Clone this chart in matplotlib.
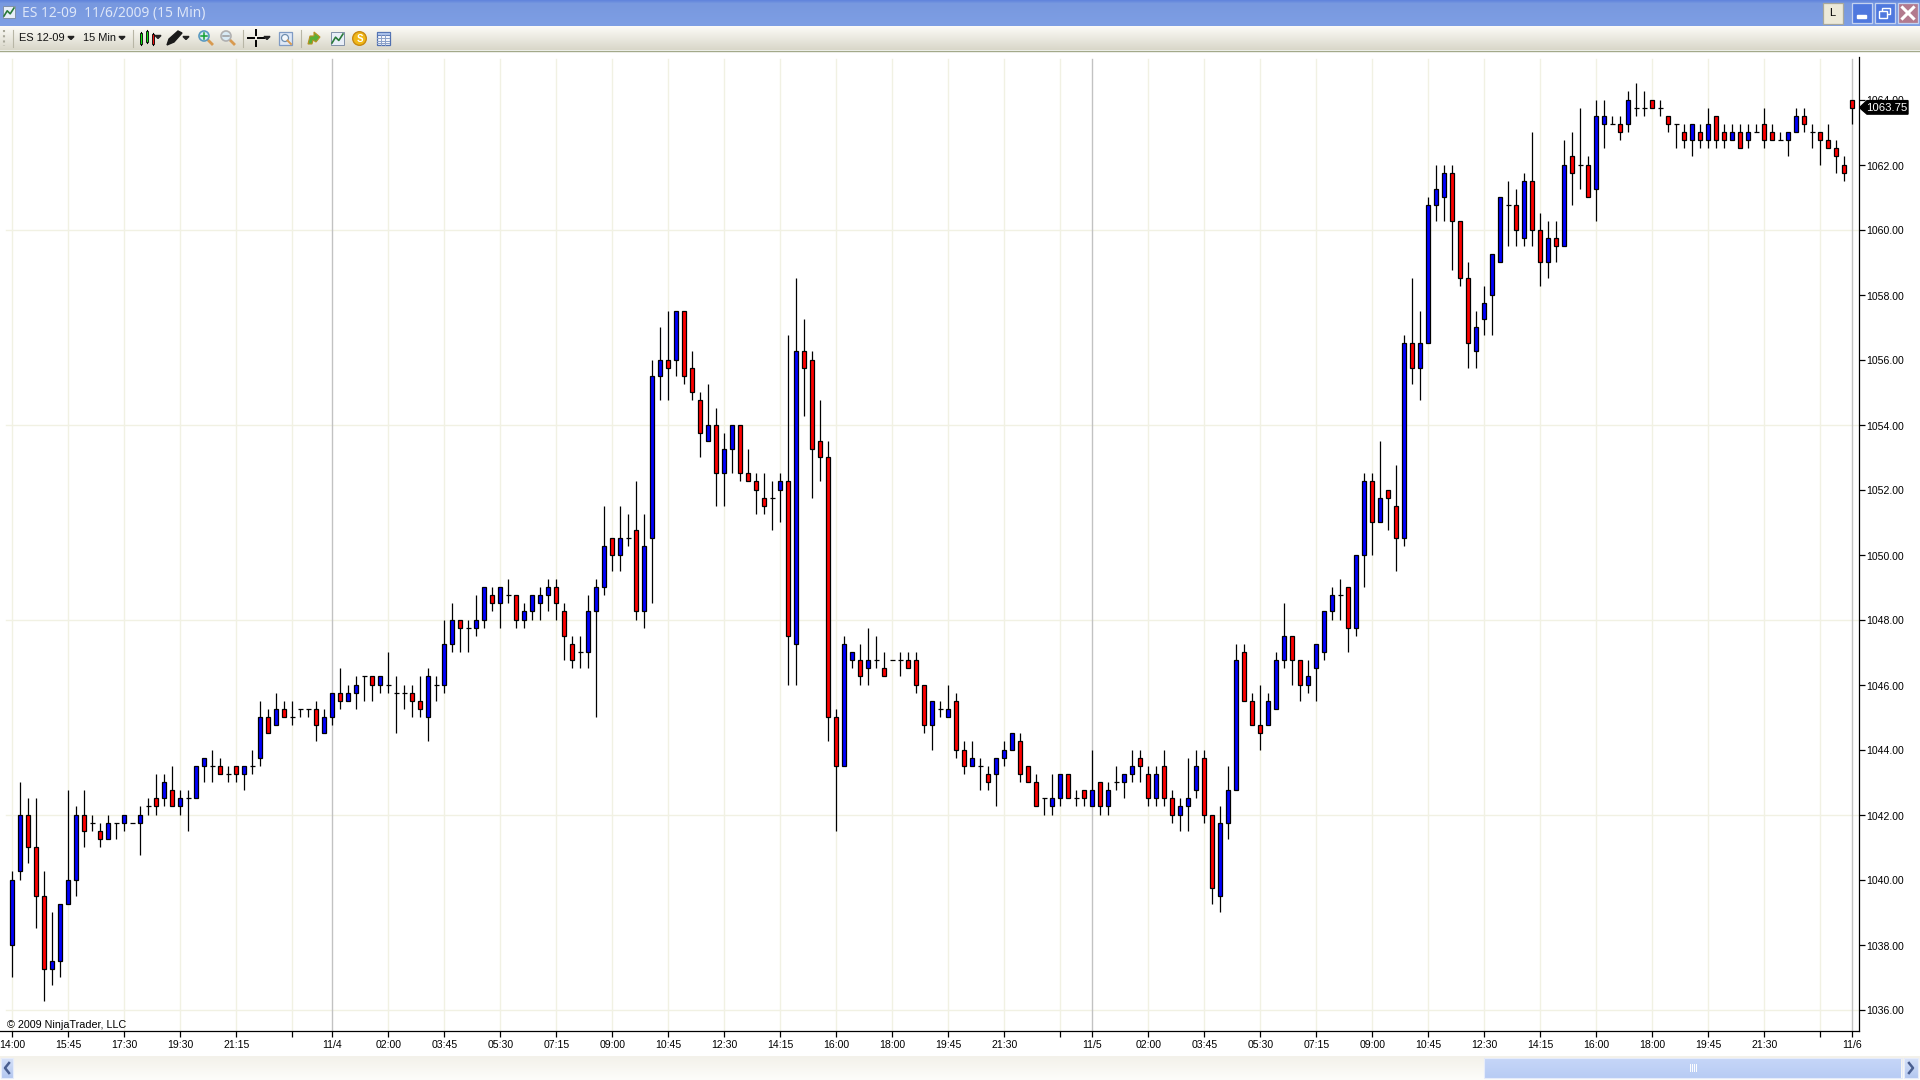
#!/usr/bin/env python
# -*- coding: utf-8 -*-
"""
plot.py

ES 12-09 15 minute candlestick chart in a NinjaTrader window
"""

import matplotlib
matplotlib.use('Agg')
import matplotlib.pyplot as plt
from matplotlib.patches import Circle, Polygon, Rectangle
from matplotlib.transforms import ScaledTranslation
import numpy as np

# bar values, one entry per 15 minute bar
opens = [
    1038, 1040.25, 1042, 1041, 1039.5, 1037.25, 1037.5, 1039.25, 1040, 1042,
    1041.75, 1041.5, 1041.25, 1041.75, 1041.75, 1041.75, 1041.75, 1042.25, 1042.5, 1042.5,
    1042.75, 1042.25, 1042.5, 1042.5, 1043.5, 1043.5, 1043.5, 1043.25, 1043.5, 1043.25,
    1043.5, 1043.75, 1045, 1044.75, 1045.25, 1045, 1045.25, 1045.25, 1045.25, 1044.5,
    1045, 1045.75, 1045.5, 1045.75, 1046.25, 1046.25, 1046, 1046, 1045.75, 1045.75,
    1045.75, 1045.5, 1045, 1046, 1046, 1047.25, 1048, 1047.75, 1047.75, 1048,
    1048.75, 1048.5, 1048.75, 1048.75, 1048, 1048.25, 1048.5, 1048.75, 1049, 1048.25,
    1047.25, 1047, 1047, 1048.25, 1049, 1050.5, 1050, 1050.5, 1050.75, 1048.25,
    1050.5, 1055.5, 1056, 1056, 1057.5, 1055.75, 1054.75, 1053.5, 1054, 1052.5,
    1053.25, 1054, 1052.5, 1052.25, 1051.75, 1051.75, 1052, 1052.25, 1047.25, 1056.25,
    1056, 1053.5, 1053, 1045, 1043.5, 1046.75, 1046.75, 1046.5, 1046.75, 1046.5,
    1046.75, 1046.75, 1046.75, 1046.75, 1046, 1044.75, 1045.25, 1045, 1045.5, 1044,
    1043.5, 1043.5, 1043.25, 1043.25, 1043.75, 1044, 1044.25, 1043.5, 1043, 1042.5,
    1042.25, 1042.5, 1043.25, 1042.5, 1042.75, 1042.25, 1043, 1042.25, 1043, 1043,
    1043.25, 1043.75, 1043.25, 1042.5, 1043.5, 1042.5, 1042, 1042.25, 1042.75, 1043.75,
    1042, 1039.5, 1041.75, 1042.75, 1047, 1045.5, 1044.75, 1044.75, 1045.25, 1046.75,
    1047.5, 1046.75, 1046, 1046.5, 1047, 1048.25, 1048.75, 1049, 1047.75, 1050,
    1052.25, 1051, 1052, 1051.5, 1050.5, 1056.5, 1055.75, 1056.5, 1060.75, 1061,
    1061.75, 1060.25, 1058.5, 1056.25, 1057.25, 1058, 1059, 1060.75, 1060.75, 1059.75,
    1061.5, 1060, 1059, 1059.75, 1059.5, 1062.25, 1062, 1062, 1061.25, 1063.25,
    1063.25, 1063.25, 1063.25, 1063.75, 1063.75, 1064, 1063.75, 1063.5, 1063.25, 1063,
    1062.75, 1063, 1062.75, 1063.5, 1063, 1062.75, 1063, 1062.75, 1063, 1063.25,
    1063, 1062.75, 1062.75, 1063, 1063.5, 1063, 1063, 1062.75, 1062.5, 1062,
    1064]
highs = [
    1040.25, 1043, 1042.5, 1042.5, 1040.25, 1039, 1039.25, 1042.75, 1042.25, 1042.75,
    1042, 1041.75, 1042, 1041.75, 1042, 1041.75, 1042.25, 1042.5, 1043.25, 1043.25,
    1043.5, 1042.75, 1042.75, 1043.5, 1043.75, 1044, 1043.75, 1043.5, 1043.5, 1043.5,
    1044, 1045.5, 1045.25, 1045.75, 1045.5, 1045.5, 1045.25, 1045.25, 1045.5, 1045.25,
    1045.75, 1046.5, 1046, 1046.25, 1046.25, 1046.25, 1046.25, 1047, 1046.25, 1046,
    1046, 1046.25, 1046.5, 1046.25, 1048, 1048.5, 1048, 1048, 1048.75, 1049,
    1049, 1049, 1049.25, 1048.75, 1048.5, 1048.75, 1049, 1049.25, 1049.25, 1048.5,
    1047.5, 1047.5, 1048.75, 1049.25, 1051.5, 1050.5, 1051.5, 1051.25, 1052.25, 1051.25,
    1056, 1057, 1057.5, 1057.5, 1057.5, 1056.25, 1055, 1055.25, 1054.5, 1053.75,
    1054, 1054, 1053.25, 1052.5, 1052.5, 1052.25, 1052.5, 1056.75, 1058.5, 1057.25,
    1056.25, 1054.75, 1053.5, 1045.25, 1047.5, 1047, 1047.25, 1047.75, 1047.5, 1047,
    1046.75, 1047, 1047, 1047, 1046, 1045.5, 1045.5, 1046, 1045.75, 1044.25,
    1044.25, 1043.75, 1043.5, 1043.75, 1044.25, 1044.5, 1044.5, 1043.5, 1043.25, 1042.5,
    1043.25, 1043.25, 1043.25, 1042.75, 1042.75, 1044, 1043, 1043, 1043.5, 1043.25,
    1044, 1044, 1043.5, 1043.5, 1044, 1042.75, 1042.5, 1043.75, 1044, 1044,
    1042, 1042.25, 1043.5, 1047.25, 1047.25, 1045.75, 1046, 1045.75, 1047, 1048.5,
    1047.5, 1046.75, 1046.75, 1047.25, 1048.25, 1049, 1049.25, 1049, 1050, 1052.5,
    1052.5, 1053.5, 1052, 1052.75, 1056.75, 1058.5, 1057.5, 1061, 1062, 1062,
    1062, 1060.25, 1059, 1057.5, 1058.25, 1059.25, 1061, 1061.5, 1061.25, 1061.75,
    1063, 1060.5, 1060.25, 1060.25, 1062.75, 1063, 1063.75, 1062.25, 1064, 1064,
    1063.5, 1063.5, 1064.25, 1064.5, 1064.25, 1064, 1064, 1063.5, 1063.25, 1063.25,
    1063.25, 1063.25, 1063.75, 1063.5, 1063.25, 1063.25, 1063.25, 1063.25, 1063.25, 1063.75,
    1063.25, 1063, 1063, 1063.75, 1063.75, 1063.25, 1063, 1063.25, 1062.75, 1062.25,
    1064]
lows = [
    1037, 1040, 1040.5, 1038.5, 1036.25, 1036.75, 1037, 1039.25, 1039.5, 1041,
    1041.5, 1041, 1041.25, 1041.25, 1041.5, 1041.75, 1040.75, 1042, 1042, 1042.25,
    1042.25, 1042, 1041.5, 1042.5, 1043, 1043, 1043.25, 1043, 1043, 1042.75,
    1043.25, 1043.5, 1044.5, 1044.75, 1045, 1044.75, 1045, 1045, 1044.25, 1044.5,
    1044.75, 1045.25, 1045.5, 1045.25, 1045.5, 1045.5, 1045.75, 1045.75, 1044.5, 1045.25,
    1045, 1045, 1044.25, 1045.5, 1045.75, 1047, 1047, 1047, 1047.5, 1047.75,
    1048.25, 1047.75, 1048.5, 1047.75, 1047.75, 1048, 1048, 1048.25, 1048, 1046.75,
    1046.5, 1046.5, 1046.5, 1045, 1048.75, 1049.5, 1049.5, 1050.25, 1048, 1047.75,
    1048.5, 1054.75, 1054.75, 1055.5, 1055.25, 1054.75, 1053, 1053.5, 1051.5, 1051.5,
    1052.5, 1052.25, 1052.25, 1051.25, 1051.25, 1050.75, 1051, 1046, 1046, 1054.25,
    1051.75, 1052.25, 1044.25, 1041.5, 1043.5, 1046.5, 1046, 1046, 1046.5, 1046.25,
    1046.75, 1046.25, 1046.5, 1045.75, 1044.5, 1044, 1045, 1045, 1043.75, 1043.25,
    1043.5, 1042.75, 1042.75, 1042.25, 1043.5, 1044, 1043, 1043, 1042.25, 1042,
    1042, 1042.25, 1042.5, 1042.25, 1042.25, 1042.25, 1042, 1042, 1042.75, 1042.5,
    1043, 1043, 1042.25, 1042.25, 1042.25, 1041.75, 1041.5, 1041.5, 1042.5, 1041.75,
    1039.25, 1039, 1041.25, 1042.75, 1045.5, 1044.75, 1044, 1044.75, 1045.25, 1046.5,
    1046, 1045.5, 1045.75, 1045.5, 1046.75, 1048, 1048, 1047, 1047.5, 1049,
    1050, 1051, 1050.75, 1049.5, 1050.25, 1055.25, 1054.75, 1056.5, 1060.25, 1060.25,
    1058.75, 1058.25, 1055.75, 1055.75, 1056.75, 1056.75, 1059, 1059.5, 1059.5, 1059.5,
    1059.5, 1058.25, 1058.5, 1059, 1059.5, 1060.75, 1061.25, 1061, 1060.25, 1062.5,
    1063.25, 1062.75, 1063, 1063.5, 1063.5, 1063.75, 1063.5, 1063, 1062.5, 1062.5,
    1062.25, 1062.5, 1062.5, 1062.5, 1062.5, 1062.75, 1062.5, 1062.5, 1063, 1062.5,
    1062.75, 1062.75, 1062.25, 1063, 1063, 1062.5, 1062, 1062.5, 1061.75, 1061.5,
    1063.25]
closes = [
    1040, 1042, 1041, 1039.5, 1037.25, 1037.5, 1039.25, 1040, 1042, 1041.5,
    1041.75, 1041.25, 1041.75, 1041.75, 1042, 1041.75, 1042, 1042.25, 1042.25, 1043,
    1042.25, 1042.5, 1042.5, 1043.5, 1043.75, 1043.5, 1043.25, 1043.25, 1043.25, 1043.5,
    1043.5, 1045, 1044.5, 1045.25, 1045, 1045, 1045.25, 1045.25, 1044.75, 1045,
    1045.75, 1045.5, 1045.75, 1046, 1046.25, 1046, 1046.25, 1046, 1045.75, 1045.75,
    1045.5, 1045.25, 1046.25, 1046, 1047.25, 1048, 1047.75, 1047.75, 1048, 1049,
    1048.5, 1049, 1048.75, 1048, 1048.25, 1048.75, 1048.75, 1049, 1048.5, 1047.5,
    1046.75, 1047, 1048.25, 1049, 1050.25, 1050, 1050.5, 1050.5, 1048.25, 1050.25,
    1055.5, 1056, 1055.75, 1057.5, 1055.5, 1055, 1053.75, 1054, 1052.5, 1053.25,
    1054, 1052.5, 1052.25, 1052, 1051.5, 1051.75, 1052.25, 1047.5, 1056.25, 1055.75,
    1053.25, 1053, 1045, 1043.5, 1047.25, 1047, 1046.25, 1046.75, 1046.75, 1046.25,
    1046.75, 1046.75, 1046.5, 1046, 1044.75, 1045.5, 1045.25, 1045.25, 1044, 1043.5,
    1043.75, 1043.5, 1043, 1043.75, 1044, 1044.5, 1043.25, 1043, 1042.25, 1042.5,
    1042.5, 1043.25, 1042.5, 1042.5, 1042.5, 1042.75, 1042.25, 1042.75, 1043, 1043.25,
    1043.5, 1043.5, 1042.5, 1043.25, 1042.5, 1042, 1042.25, 1042.5, 1043.5, 1042,
    1039.75, 1041.75, 1042.75, 1046.75, 1045.5, 1044.75, 1044.5, 1045.5, 1046.75, 1047.5,
    1046.75, 1046, 1046.25, 1047.25, 1048.25, 1048.75, 1048.75, 1047.75, 1050, 1052.25,
    1051, 1051.75, 1051.75, 1050.5, 1056.5, 1055.75, 1056.5, 1060.75, 1061.25, 1061.75,
    1060.25, 1058.5, 1056.5, 1057, 1057.75, 1059.25, 1061, 1060.75, 1060, 1061.5,
    1060, 1059, 1059.75, 1059.5, 1062, 1061.75, 1062, 1061, 1063.5, 1063.5,
    1063.25, 1063, 1064, 1063.75, 1063.75, 1063.75, 1063.75, 1063.25, 1063.25, 1062.75,
    1063.25, 1062.75, 1063.25, 1062.75, 1062.75, 1063, 1062.5, 1063, 1063, 1062.75,
    1062.75, 1062.75, 1063, 1063.5, 1063.25, 1063, 1062.75, 1062.5, 1062.25, 1061.75,
    1063.75]

tick_bars = [0, 7, 14, 21, 28, 35, 40, 47, 54, 61, 68, 75, 82, 89, 96, 103, 110, 117,
             124, 131, 135, 142, 149, 156, 163, 170, 177, 184, 191, 198, 205, 212, 219,
             226, 230]
tick_labels = ['14:00', '15:45', '17:30', '19:30', '21:15', '', '11/4', '02:00', '03:45',
               '05:30', '07:15', '09:00', '10:45', '12:30', '14:15', '16:00', '18:00',
               '19:45', '21:30', '', '11/5', '02:00', '03:45', '05:30', '07:15', '09:00',
               '10:45', '12:30', '14:15', '16:00', '18:00', '19:45', '21:30', '', '11/6']
session_bars = [40, 135, 230]
price_ticks = np.arange(1036, 1066, 2)
price_grid = [1036, 1042, 1048, 1054, 1060]
last_price = 1063.75

UI_FONT = ['Liberation Sans', 'DejaVu Sans']
GRID = '#f1f1e3'

plt.rcParams['font.family'] = UI_FONT

fig = plt.figure(figsize=(19.2, 10.8), dpi=100, facecolor='white')

# ==============================================================================
#     price panel, one bar is 8 pixels and one point is 32.5 pixels
# ==============================================================================
left, right, top, bottom = 0, 1859, 57, 1030.7
ax = fig.add_axes([left / 1920, 1 - bottom / 1080, (right - left) / 1920, (bottom - top) / 1080])
ax.set_xlim((left - 12.3) / 8, (right - 12.3) / 8)
ax.set_ylim(1060 - (bottom - 229.5) / 32.5, 1060 + (229.5 - top) / 32.5)
ax.patch.set_alpha(0)

for s in ['top', 'left']:
    ax.spines[s].set_visible(False)
for s in ['bottom', 'right']:
    ax.spines[s].set_linewidth(0.9)

grid_top = ax.transAxes.inverted().transform(fig.transFigure.transform((0, 1 - 59 / 1080)))[1]
for b in tick_bars:
    if b in session_bars:
        ax.axvline(b, ymax=grid_top, color='#c2c2c2', lw=1.0, zorder=1.5)
    else:
        ax.axvline(b, ymax=grid_top, color=GRID, lw=1.0, zorder=1)
for p in price_grid:
    ax.axhline(p, xmin=0.003, color=GRID, lw=1.0, zorder=1)

x = np.arange(len(opens))
o = np.array(opens)
h = np.array(highs)
l = np.array(lows)
c = np.array(closes)

ax.vlines(x, l, h, color='black', lw=0.9, zorder=2)
up = c > o
down = c < o
flat = c == o
ax.bar(x[up], (c - o)[up], bottom=o[up], width=0.46, color='#0000ff', edgecolor='black', lw=0.9, zorder=3)
ax.bar(x[down], (o - c)[down], bottom=c[down], width=0.46, color='#ff0000', edgecolor='black', lw=0.9, zorder=3)
ax.hlines(c[flat], x[flat] - 0.3, x[flat] + 0.3, color='black', lw=0.9, zorder=3)

ax.set_xticks(tick_bars)
ax.set_xticklabels(tick_labels)
ax.yaxis.tick_right()
ax.set_yticks(price_ticks)
ax.set_yticklabels(['{0:.2f}'.format(p) for p in price_ticks])
ax.tick_params(axis='x', length=4.3, width=0.9, pad=2.2, labelsize=7.6)
ax.tick_params(axis='y', length=4.3, width=0.9, pad=1, labelsize=7.6)
# the price labels sit about a pixel under their ticks
nudge = ScaledTranslation(0, -1.0 / 100, fig.dpi_scale_trans)
for t in ax.get_yticklabels():
    t.set_transform(t.get_transform() + nudge)
ax.text(0.0035, 0.0005, '\u00a9 2009 NinjaTrader, LLC', transform=ax.transAxes, fontsize=7.75, va='bottom')

# ==============================================================================
#     window chrome, drawn in pixel coordinates over everything
# ==============================================================================
ui = fig.add_axes([0, 0, 1, 1], zorder=5)
ui.patch.set_alpha(0)
ui.axis('off')


def gradient(x0, x1, y0, y1, c0, c1):
    """
    vertical gradient from c0 at y0 to c1 at y1
    """
    rgb0 = np.array(matplotlib.colors.to_rgb(c0))
    rgb1 = np.array(matplotlib.colors.to_rgb(c1))
    img = np.linspace(0, 1, 32)[:, None, None] * (rgb1 - rgb0) + rgb0
    ui.imshow(img, extent=(x0, x1, y1, y0), aspect='auto', interpolation='bilinear', zorder=1)


def dropdown(xc, yc=38):
    ui.add_patch(Polygon([(xc - 3, yc - 1.5), (xc + 3, yc - 1.5), (xc, yc + 1.5)], color='#222222', zorder=3))


def separator(xc):
    ui.plot([xc, xc], [30, 47], color='#b8b6a6', lw=0.8, zorder=3)


def lens(xc, yc, color, mark):
    ui.plot([xc + 3, xc + 8], [yc + 3, yc + 8], color='#d89a50', lw=2, zorder=3)
    ui.add_patch(Circle((xc, yc), 5, facecolor='#d8eaf4', edgecolor=color, lw=1.2, zorder=4))
    ui.plot([xc - 3, xc + 3], [yc, yc], color=mark, lw=1.1, zorder=5)
    if mark != '#9a9a9a':
        ui.plot([xc, xc], [yc - 3, yc + 3], color=mark, lw=1.1, zorder=5)


def chart_icon(x0, y0, size=13):
    ui.add_patch(Rectangle((x0, y0), size, size, facecolor='#e8eef8', edgecolor='#8090a8', lw=0.7, zorder=3))
    ui.plot([x0 + 1, x0 + size * 0.35, x0 + size * 0.6, x0 + size - 1],
            [y0 + size - 2, y0 + size * 0.4, y0 + size * 0.65, y0 + 2], color='#2a7a3a', lw=1.2, zorder=4)


# title bar
gradient(0, 1920, 0, 4, '#5f83dc', '#7b9be0')
gradient(0, 1920, 4, 26, '#7898df', '#7e9fe4')
chart_icon(3, 6, 12)
ui.text(22, 13.5, 'ES 12-09  11/6/2009 (15 Min)', family=['Noto Sans', 'DejaVu Sans'], fontsize=9.95,
        color='#dde6f8', va='center', ha='left', zorder=3)

# window buttons
ui.add_patch(Rectangle((1822.5, 2.5), 20, 21, facecolor='#ece9d8', edgecolor='#a8a89a', lw=0.9, zorder=3))
ui.text(1832.5, 13, 'L', fontsize=8, ha='center', va='center', zorder=4)
for x0, col in zip([1852, 1875, 1898], ['#4f78de', '#4f78de', '#b27a8e']):
    ui.add_patch(Rectangle((x0, 3), 19.5, 19.5, facecolor=col, edgecolor='#c4d2f0', lw=0.9, zorder=3))
ui.add_patch(Rectangle((1857, 15), 9, 3, color='white', zorder=4))
ui.add_patch(Rectangle((1882, 8), 8, 6, facecolor='none', edgecolor='white', lw=1, zorder=4))
ui.add_patch(Rectangle((1879, 11), 8, 7, facecolor='#4f78de', edgecolor='white', lw=1, zorder=5))
ui.plot([1902.5, 1913.5], [7.5, 18.5], color='white', lw=2.2, zorder=4)
ui.plot([1902.5, 1913.5], [18.5, 7.5], color='white', lw=2.2, zorder=4)

# tool bar
gradient(0, 1920, 26, 50, '#fcfbf7', '#d9d7c9')
ui.plot([0, 1920], [50.5, 50.5], color='#a3a98a', lw=1, zorder=3)
ui.plot([4, 4], [30, 46], color='#a9a89a', lw=1.5, ls=(0, (1, 1.5)), zorder=3)
separator(13)
ui.text(19, 38, 'ES 12-09', fontsize=7.9, va='center', color='#111111', zorder=3)
dropdown(71)
ui.text(83, 38, '15 Min', fontsize=7.9, va='center', color='#111111', zorder=3)
dropdown(122)
separator(133)
for xc, y0, y1, col in [(141, 33, 44, '#10e010'), (147, 31, 42, '#10e010'), (153, 34, 44, '#f01010')]:
    ui.plot([xc, xc], [y0 - 1, y1 + 1], color='black', lw=0.8, zorder=3)
    ui.add_patch(Rectangle((xc - 1.4, y0), 2.8, y1 - y0, facecolor=col, edgecolor='black', lw=0.6, zorder=4))
dropdown(158, 37)
ui.add_patch(Polygon([(167, 45), (169, 39), (178, 31), (182, 33), (174, 42)], color='#1a1a1a', zorder=3))
dropdown(186, 38)
lens(204, 36, '#5a9ac0', '#10a030')
lens(226, 36, '#b0b0b0', '#9a9a9a')
separator(243)
ui.plot([248, 254], [38, 38], color='black', lw=1.4, zorder=3)
ui.plot([258, 264], [38, 38], color='black', lw=1.4, zorder=3)
ui.plot([256, 256], [30, 35], color='black', lw=1.4, zorder=3)
ui.plot([256, 256], [41, 46], color='black', lw=1.4, zorder=3)
dropdown(267)
ui.add_patch(Rectangle((279, 32), 13, 13, facecolor='#dfe8f6', edgecolor='#7f9bc4', lw=0.9, zorder=3))
ui.add_patch(Circle((285, 38), 3.5, facecolor='#f4f8fc', edgecolor='#6f8fb0', lw=0.9, zorder=4))
ui.plot([287.5, 291], [40.5, 44], color='#d89a50', lw=1.4, zorder=5)
separator(301)
ui.add_patch(Polygon([(308, 44), (310, 36), (314, 36), (314, 32), (320, 37), (316, 42), (313, 40), (312, 44)],
                     facecolor='#58b038', edgecolor='#b89020', lw=0.8, zorder=3))
chart_icon(331, 32)
ui.add_patch(Circle((359.5, 38.5), 6.8, facecolor='#f0b818', edgecolor='#c88810', lw=1, zorder=3))
ui.text(359.5, 38.5, 'S', fontsize=7, weight='bold', color='white', ha='center', va='center', zorder=4)
ui.add_patch(Rectangle((376.5, 32), 13, 13, facecolor='#f4f6fa', edgecolor='#5070b0', lw=0.9, zorder=3))
ui.add_patch(Rectangle((376.5, 32), 13, 2.5, facecolor='#a8bfe8', edgecolor='#5070b0', lw=0.6, zorder=4))
for yr in [37.5, 40.5, 43]:
    ui.plot([377, 389], [yr, yr], color='#8aa0c8', lw=0.7, zorder=4)
for xr in [381, 385]:
    ui.plot([xr, xr], [35, 45], color='#8aa0c8', lw=0.7, zorder=4)

# last price marker, sits at the closing price of the last bar
ym = 229.5 + (1060 - last_price) * 32.5
ui.add_patch(Polygon([(1859.5, ym), (1867, ym - 7), (1908, ym - 7), (1908, ym + 6.5), (1867, ym + 6.5)],
                     color='black', zorder=3))
ui.text(1887, ym, '{0:.2f}'.format(last_price), fontsize=8.2, color='white', ha='center', va='center', zorder=4)

# scroll bar
gradient(0, 1920, 1056, 1080, '#f3f1ea', '#fdfdfa')
gradient(1, 13, 1058, 1078, '#d4e0f8', '#b4c8f0')
gradient(1484, 1901, 1058, 1078, '#c6d6f8', '#b8ccf4')
gradient(1904, 1918, 1058, 1078, '#d4e0f8', '#b4c8f0')
for x0, x1 in [(1, 13), (1484, 1901.5), (1904, 1918)]:
    ui.add_patch(Rectangle((x0, 1058), x1 - x0, 20, facecolor='none', edgecolor='#e6ecfa', lw=0.8, zorder=3))
for xg in range(1690, 1698, 2):
    ui.plot([xg, xg], [1064, 1071], color='#ffffff', lw=0.7, zorder=4)
ui.plot([9, 5, 9], [1063, 1068, 1073], color='#4a5f90', lw=1.8, zorder=4)
ui.plot([1909, 1913, 1909], [1063, 1068, 1073], color='#4a5f90', lw=1.8, zorder=4)

ui.set_xlim(0, 1920)
ui.set_ylim(1080, 0)

fig.savefig('out.png', dpi=100)
